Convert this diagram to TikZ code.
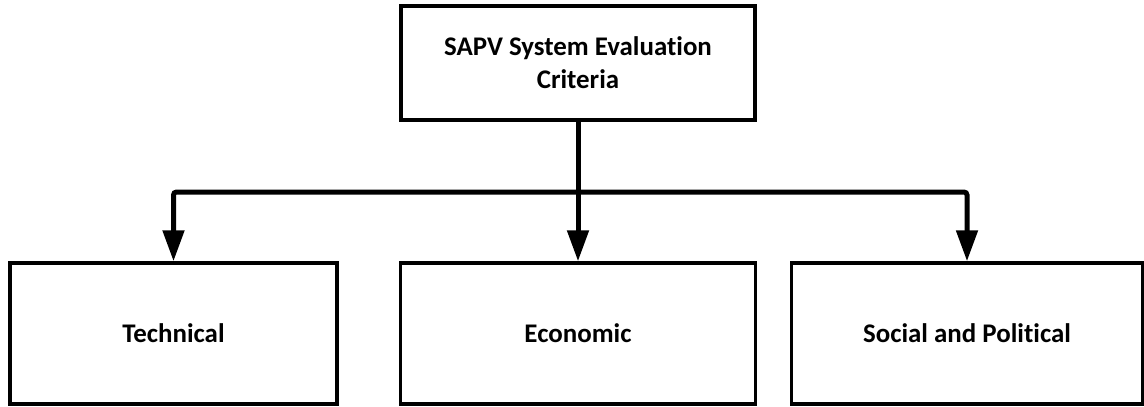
\documentclass[tikz,border=0pt]{standalone}
\usepackage{fontspec}
\setmainfont[Ligatures={NoCommon}]{Carlito}
\usetikzlibrary{arrows.meta}
\begin{document}
\begin{tikzpicture}[x=1bp,y=-1bp,
  box/.style={draw, line width=3.5bp, rectangle, align=center, inner sep=0pt,
    font=\fontsize{27}{33}\selectfont\bfseries},
  conn/.style={line width=5bp, -{Triangle[length=31bp,width=21bp]}},
  link/.style={line width=5bp}]
\useasboundingbox (0,0) rectangle (1144,406);
\node[box, minimum width=354bp, minimum height=114bp] (top) at (578,63) {SAPV System Evaluation\\Criteria};
\node[box, minimum width=327bp, minimum height=141bp] (tech) at (173.5,333.5) {Technical};
\node[box, minimum width=355bp, minimum height=141bp] (econ) at (578,333.5) {Economic};
\node[box, minimum width=351bp, minimum height=141bp] (soc) at (967,333.5) {Social and Political};
\coordinate (j) at (578,192);
\draw[conn] (top.south) -- (econ.north);
\draw[conn, rounded corners=3bp] (j) -| (tech.north);
\draw[conn, rounded corners=3bp] (j) -| (soc.north);
\end{tikzpicture}
\end{document}
